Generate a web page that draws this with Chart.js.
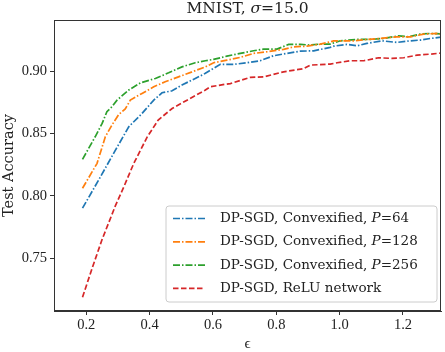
<!DOCTYPE html>
<html><head><meta charset="utf-8">
<script src="https://cdn.jsdelivr.net/npm/chart.js@4/dist/chart.umd.min.js"></script>
<style>html,body{margin:0;padding:0;background:#fff}#wrap{width:445px;height:352px}</style>
</head><body><div id="wrap"><canvas id="c" width="445" height="352"></canvas></div>
<script>
const titleText = ['MNIST, ', 'σ', '=15.0'];
const xTicks = [0.2, 0.4, 0.6, 0.8, 1.0, 1.2];
const yTicks = [0.75, 0.80, 0.85, 0.90];
const seriesLabels = [
  ['DP-SGD, Convexified, ', 'P', '=64'],
  ['DP-SGD, Convexified, ', 'P', '=128'],
  ['DP-SGD, Convexified, ', 'P', '=256'],
  ['DP-SGD, ReLU network', '', '']
];
const eps64 = [0.188,0.239,0.292,0.334,0.376,0.413,0.439,0.471,0.502,0.544,0.576,0.592,0.623,0.665,0.707,0.749,0.791,0.834,0.876,0.918,0.970,0.981,1.023,1.055,1.086,1.134,1.181,1.223,1.255,1.286,1.328];
const acc64 = [0.790,0.8126,0.8366,0.8553,0.866,0.8767,0.8826,0.8842,0.8888,0.8941,0.8982,0.9008,0.9054,0.9054,0.9067,0.9083,0.9123,0.9142,0.916,0.9163,0.919,0.920,0.9214,0.9203,0.9222,0.9243,0.923,0.9243,0.9249,0.9262,0.9275];
const eps128 = [0.188,0.234,0.260,0.281,0.302,0.323,0.339,0.376,0.413,0.449,0.491,0.534,0.576,0.602,0.644,0.686,0.728,0.771,0.823,0.855,0.897,0.939,0.970,0.981,1.044,1.086,1.128,1.181,1.223,1.265,1.307,1.328];
const acc128 = [0.806,0.826,0.8473,0.8567,0.865,0.8697,0.8767,0.8821,0.8874,0.8914,0.8954,0.8994,0.9034,0.9067,0.9088,0.911,0.9142,0.9155,0.9174,0.9195,0.920,0.9217,0.9235,0.9243,0.9243,0.9254,0.9262,0.9275,0.9275,0.9297,0.9302,0.9289];
const eps256 = [0.188,0.228,0.250,0.265,0.281,0.297,0.334,0.371,0.418,0.460,0.502,0.544,0.576,0.602,0.644,0.686,0.728,0.760,0.802,0.839,0.876,0.907,0.939,0.970,1.002,1.055,1.097,1.139,1.186,1.218,1.255,1.286,1.328];
const acc256 = [0.8292,0.8473,0.858,0.8674,0.8714,0.8767,0.8848,0.8906,0.8941,0.8986,0.9034,0.9067,0.9083,0.9094,0.912,0.9142,0.9163,0.9176,0.9176,0.9214,0.9214,0.9209,0.9217,0.9217,0.9243,0.9254,0.9254,0.9262,0.9283,0.9275,0.9297,0.9302,0.9297];
const epsReLU = [0.188,0.22,0.25,0.292,0.32,0.35,0.392,0.427,0.471,0.518,0.576,0.592,0.623,0.655,0.718,0.760,0.823,0.886,0.907,0.970,0.992,1.034,1.076,1.123,1.165,1.202,1.244,1.286,1.328];
const accReLU = [0.7185,0.743,0.765,0.792,0.808,0.826,0.847,0.8607,0.870,0.8767,0.8848,0.8874,0.8888,0.890,0.895,0.8954,0.8994,0.902,0.9048,0.9056,0.9067,0.9083,0.9083,0.9107,0.9102,0.9107,0.9128,0.9136,0.9147];

const FONT = '"Liberation Serif", "DejaVu Serif", serif';
const TFONT = '"DejaVu Serif", "Liberation Serif", serif';
const colors = ['#1f77b4', '#ff7f0e', '#2ca02c', '#d62728'];
const dashes = [[7,2,1.5,2],[7,2,1.5,2],[7,2,1.5,2],[5.5,2.5]];
const xs = [eps64, eps128, eps256, epsReLU];
const ys = [acc64, acc128, acc256, accReLU];

const datasets = xs.map((ex, i) => ({
  label: seriesLabels[i].join(''),
  data: ex.map((e, k) => ({x: e, y: ys[i][k]})),
  borderColor: colors[i], borderWidth: 1.7, borderDash: dashes[i],
  pointRadius: 0, tension: 0, fill: false
}));

function drawMixed(ctx, parts, x, y, size, align) {
  const fonts = [`${size}px ${TFONT}`, `italic ${size}px ${TFONT}`, `${size}px ${TFONT}`];
  let widths = parts.map((p, i) => { ctx.font = fonts[i]; return ctx.measureText(p).width; });
  let total = widths.reduce((a, b) => a + b, 0);
  let cx = align === 'center' ? x - total / 2 : x;
  ctx.textAlign = 'left'; ctx.textBaseline = 'middle';
  parts.forEach((p, i) => { ctx.font = fonts[i]; ctx.fillText(p, cx, y); cx += widths[i]; });
}

const decor = {
  id: 'decor',
  afterDatasetsDraw(chart) {
    const ctx = chart.ctx, a = chart.chartArea;
    ctx.save();
    ctx.strokeStyle = '#333'; ctx.lineWidth = 1;
    ctx.strokeRect(a.left + 0.5, a.top + 0.5, a.right - a.left - 1, a.bottom - a.top - 1);
    ctx.fillStyle = '#222';
    drawMixed(ctx, titleText, (a.left + a.right) / 2, 9, 15.5, 'center');
    ctx.font = `15px ${FONT}`; ctx.textAlign = 'center'; ctx.textBaseline = 'middle';
    ctx.fillText('ϵ', (a.left + a.right) / 2, 344);
    ctx.font = `14.5px ${TFONT}`;
    ctx.save(); ctx.translate(9, (a.top + a.bottom) / 2); ctx.rotate(-Math.PI / 2);
    ctx.fillText('Test Accuracy', 0, 0); ctx.restore();
    const bx = 166, by = 206, bw = 271, bh = 96, r = 3;
    ctx.beginPath();
    ctx.moveTo(bx + r, by); ctx.lineTo(bx + bw - r, by); ctx.quadraticCurveTo(bx + bw, by, bx + bw, by + r);
    ctx.lineTo(bx + bw, by + bh - r); ctx.quadraticCurveTo(bx + bw, by + bh, bx + bw - r, by + bh);
    ctx.lineTo(bx + r, by + bh); ctx.quadraticCurveTo(bx, by + bh, bx, by + bh - r);
    ctx.lineTo(bx, by + r); ctx.quadraticCurveTo(bx, by, bx + r, by); ctx.closePath();
    ctx.fillStyle = 'rgba(255,255,255,0.8)'; ctx.fill();
    ctx.strokeStyle = '#cccccc'; ctx.lineWidth = 1; ctx.stroke();
    chart.data.datasets.forEach((ds, i) => {
      const ry = 218.5 + i * 23.3;
      ctx.beginPath(); ctx.setLineDash(ds.borderDash); ctx.strokeStyle = ds.borderColor; ctx.lineWidth = 1.7;
      ctx.moveTo(173, ry); ctx.lineTo(205, ry); ctx.stroke(); ctx.setLineDash([]);
      ctx.fillStyle = '#222';
      drawMixed(ctx, seriesLabels[i], 220, ry, 13.5, 'left');
    });
    ctx.restore();
  }
};

new Chart(document.getElementById('c'), {
  type: 'line',
  data: { datasets },
  plugins: [decor],
  options: {
    responsive: false, animation: false, devicePixelRatio: 1,
    layout: { padding: { left: 0, right: 4, top: 20, bottom: 0 } },
    plugins: { legend: { display: false }, tooltip: { enabled: false } },
    scales: {
      x: {
        type: 'linear', min: 0.098, max: 1.32,
        afterBuildTicks: s => { s.ticks = xTicks.map(v => ({ value: v })); },
        afterFit: s => { s.height = 41; },
        grid: { drawOnChartArea: false, drawTicks: true, tickLength: 4, color: '#333' },
        border: { display: true, color: '#333', width: 1 },
        ticks: { font: { family: FONT, size: 14.5 }, color: '#222', padding: 1, maxRotation: 0,
          callback: v => v.toFixed(1) }
      },
      y: {
        type: 'linear', min: 0.7075, max: 0.941,
        afterBuildTicks: s => { s.ticks = yTicks.map(v => ({ value: v })); },
        afterFit: s => { s.width = 54; },
        grid: { drawOnChartArea: false, drawTicks: true, tickLength: 4, color: '#333' },
        border: { display: true, color: '#333', width: 1 },
        ticks: { font: { family: FONT, size: 14.5 }, color: '#222', padding: 3,
          callback: v => v.toFixed(2) }
      }
    }
  }
});
</script></body></html>
